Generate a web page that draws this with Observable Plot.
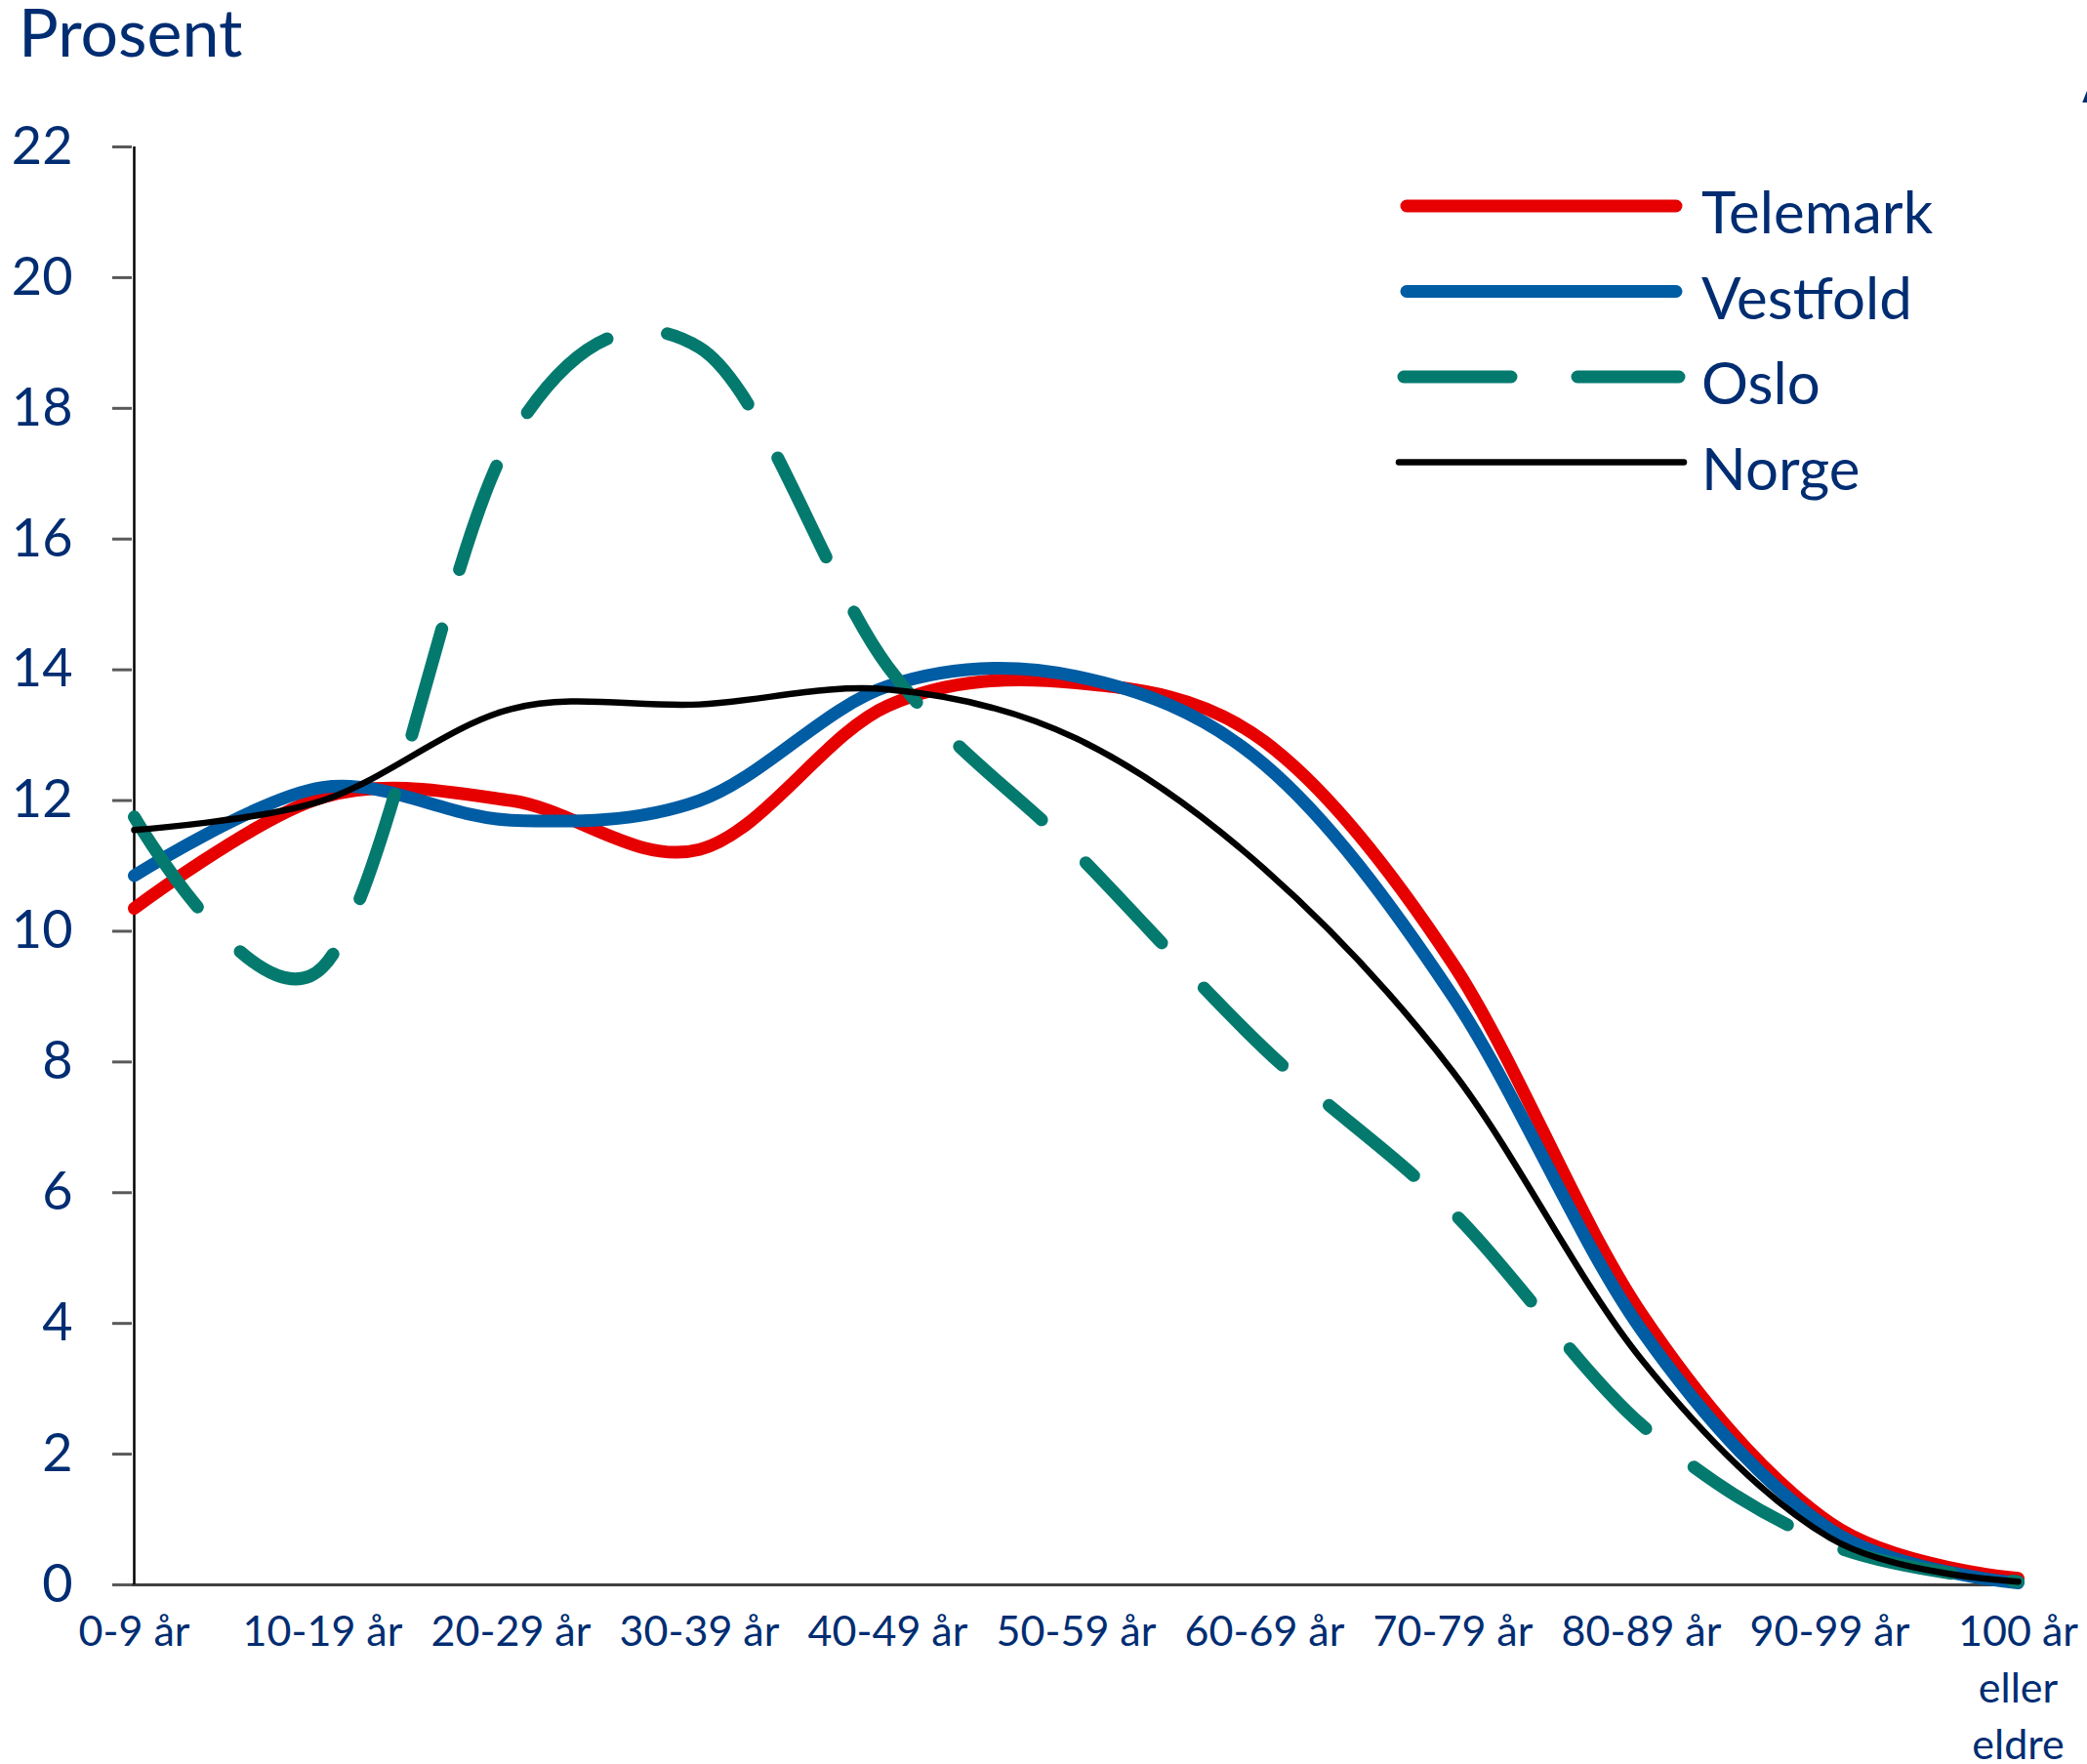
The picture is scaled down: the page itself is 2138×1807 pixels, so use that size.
<!DOCTYPE html>
<html>
<head>
<meta charset="utf-8">
<script src="https://cdn.jsdelivr.net/npm/d3@7"></script>
<script src="https://cdn.jsdelivr.net/npm/@observablehq/plot@0.6"></script>
<style>
  html, body { margin: 0; padding: 0; background: #ffffff; width: 2138px; height: 1807px; overflow: hidden; }
  #wrap { position: relative; width: 2138px; height: 1807px; font-family: Lato, "Noto Sans", sans-serif; color: #002d72; }
  #title { position: absolute; left: 19px; top: 5px; font-size: 68px; line-height: 54px; white-space: nowrap; }
  #edge { position: absolute; left: 2133px; top: 52px; font-size: 60px; line-height: 60px; white-space: nowrap; }
  #chart { position: absolute; left: 0; top: 0; }
  #legend { position: absolute; left: 0; top: 0; pointer-events: none; }
</style>
</head>
<body>
<div id="wrap">
  <div id="chart"></div>
  <svg id="legend" width="2138" height="1807"></svg>
  <div id="title">Prosent</div>
  <div id="edge">A</div>
</div>
<script>
// ---- data ----
const categories = ["0-9 år", "10-19 år", "20-29 år", "30-39 år", "40-49 år", "50-59 år",
                    "60-69 år", "70-79 år", "80-89 år", "90-99 år", "100 år eller eldre"];
const tickLabels = ["0-9 år", "10-19 år", "20-29 år", "30-39 år", "40-49 år", "50-59 år",
                    "60-69 år", "70-79 år", "80-89 år", "90-99 år", "100 år\neller\neldre"];
const seriesNames = ["Telemark", "Vestfold", "Oslo", "Norge"];
const telemark = [10.35, 12.05, 12.0, 11.25, 13.45, 13.8, 12.9, 9.5, 4.15, 0.95, 0.1];
const vestfold = [10.85, 12.2, 11.7, 12.0, 13.75, 13.9, 12.55, 9.0, 3.9, 0.85, 0.03];
const oslo     = [11.75, 9.45, 17.55, 18.93, 14.05, 11.2, 8.2, 5.7, 2.45, 0.62, 0.05];
const norge    = [11.55, 12.0, 13.4, 13.47, 13.7, 12.95, 10.95, 7.85, 3.45, 0.72, 0.05];
const yTicks = [0, 2, 4, 6, 8, 10, 12, 14, 16, 18, 20, 22];

// ---- styles ----
const navy = "#002d72";
const seriesValues = [telemark, vestfold, oslo, norge];
const seriesStyle = {
  Telemark: {stroke: "#e60000", strokeWidth: 13, dash: null},
  Vestfold: {stroke: "#005ca3", strokeWidth: 13, dash: null},
  Oslo:     {stroke: "#047a6f", strokeWidth: 13, dash: "113,63"},
  Norge:    {stroke: "#000000", strokeWidth: 6.5, dash: null}
};

const rows = seriesNames.flatMap((s, si) =>
  seriesValues[si].map((v, i) => ({series: s, cat: categories[i], value: v})));

const lineMarks = seriesNames.map(s => {
  const st = seriesStyle[s];
  const opts = {
    x: "cat", y: "value", curve: "cardinal",
    stroke: st.stroke, strokeWidth: st.strokeWidth,
    strokeLinecap: "round", strokeLinejoin: "round"
  };
  if (st.dash) opts.strokeDasharray = st.dash;
  return Plot.line(rows.filter(r => r.series === s), opts);
});

const chart = Plot.plot({
  width: 2138,
  height: 1807,
  marginTop: 150,
  marginBottom: 184,
  marginLeft: 135,
  marginRight: 70,
  style: {fontFamily: "Lato, 'Noto Sans', sans-serif", background: "transparent", overflow: "visible"},
  x: {type: "point", domain: categories, padding: 0, axis: null},
  y: {domain: [0, 22], axis: null},
  marks: [
    Plot.axisY({
      ticks: yTicks, tickSize: 20, tickPadding: 41, fontSize: 54,
      fill: navy, stroke: "#595959", strokeWidth: 3, label: null,
      tickFormat: d => String(d)
    }),
    Plot.ruleY([0], {stroke: "#404040", strokeWidth: 3}),
    Plot.ruleX([categories[0]], {stroke: "#000000", strokeWidth: 2.5}),
    ...lineMarks,
    Plot.text(categories, {
      x: d => d,
      text: (d, i) => tickLabels[i],
      frameAnchor: "bottom",
      lineAnchor: "top",
      dy: 21,
      lineHeight: 1.35,
      fontSize: 43,
      fill: navy,
      textAnchor: "middle"
    })
  ]
});
document.getElementById("chart").appendChild(chart);

// ---- legend ----
const legend = d3.select("#legend");
const legX1 = 1441, legX2 = 1717, legTextX = 1743, legTop = 211, legStep = 87.5;
seriesNames.forEach((s, i) => {
  const st = seriesStyle[s];
  const y = legTop + i * legStep;
  const extra = st.strokeWidth < 10 ? 8 : (st.dash ? 3 : 0);
  const ln = legend.append("line")
    .attr("x1", legX1 - extra).attr("x2", legX2 + extra)
    .attr("y1", y).attr("y2", y)
    .attr("stroke", st.stroke)
    .attr("stroke-width", st.strokeWidth)
    .attr("stroke-linecap", "round");
  if (st.dash) ln.attr("stroke-dasharray", "110,68");
  legend.append("text")
    .attr("x", legTextX).attr("y", y + 28)
    .attr("fill", navy)
    .attr("font-family", "Lato, 'Noto Sans', sans-serif")
    .attr("font-size", 60)
    .text(s);
});
</script>
</body>
</html>
